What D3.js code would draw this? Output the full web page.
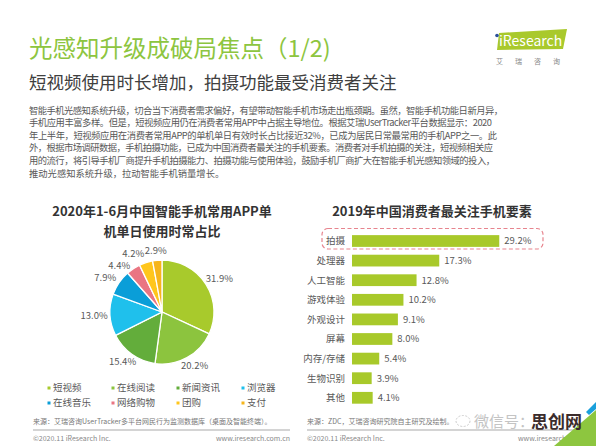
<!DOCTYPE html>
<html>
<head>
<meta charset="utf-8">
<script src="https://cdn.jsdelivr.net/npm/d3@7"></script>
<style>
  body { margin: 0; background: #fff; }
  text { font-family: "Noto Sans CJK SC", "Noto Sans", sans-serif; }
</style>
</head>
<body>
<div id="page"></div>
<script>
var pieCats = ["短视频", "在线阅读", "新闻资讯", "浏览器", "在线音乐", "网络购物", "团购", "支付"];
var pieValues = [31.9, 20.2, 15.4, 13.0, 7.9, 4.4, 4.2, 2.9];
var pieColors = ["#a8ca2c", "#8cc43e", "#63ad3b", "#1fc0ec", "#0a9ed8", "#ea7582", "#ffc61c", "#f6b51a"];

var barCats = ["拍摄", "处理器", "人工智能", "游戏体验", "外观设计", "屏幕", "内存/存储", "生物识别", "其他"];
var barValues = [29.2, 17.3, 12.8, 10.2, 9.1, 8.0, 5.4, 3.9, 4.1];

var paraLines = [
	"智能手机光感知系统升级，切合当下消费者需求偏好，有望带动智能手机市场走出瓶颈期。虽然，智能手机功能日新月异，",
	"手机应用丰富多样。但是，短视频应用仍在消费者常用APP中占据主导地位。根据艾瑞UserTracker平台数据显示：2020",
	"年上半年，短视频应用在消费者常用APP的单机单日有效时长占比接近32%，已成为居民日常最常用的手机APP之一。此",
	"外，根据市场调研数据，手机拍摄功能，已成为中国消费者最关注的手机要素。消费者对手机拍摄的关注，短视频相关应",
	"用的流行，将引导手机厂商提升手机拍摄能力、拍摄功能与使用体验，鼓励手机厂商扩大在智能手机光感知领域的投入，",
	"推动光感知系统升级，拉动智能手机销量增长。"
];
var paraWidths = [474, 463, 468, 464, 466, null];

var svg = d3.select("#page").append("svg")
	.attr("width", 596)
	.attr("height", 446);

// header
svg.append("text")
	.attr("x", 29).attr("y", 57)
	.attr("font-size", 23.5)
	.attr("fill", "#8dc540")
	.text("光感知升级成破局焦点（1/2)");

svg.append("text")
	.attr("x", 29).attr("y", 89)
	.attr("font-size", 17.5)
	.attr("fill", "#404040")
	.text("短视频使用时长增加，拍摄功能最受消费者关注");

// logo
svg.append("polygon")
	.attr("points", "499,33 567,29 563,49 497,50")
	.attr("fill", "#a9c92c");
svg.append("text")
	.attr("x", 499).attr("y", 46)
	.attr("font-size", 14)
	.attr("fill", "#fff")
	.attr("font-family", "Open Sans")
	.text("iResearch");
svg.append("circle")
	.attr("cx", 497).attr("cy", 35.5).attr("r", 1.8)
	.attr("fill", "#2a4f9a");
svg.append("text")
	.attr("x", 496).attr("y", 64)
	.attr("font-size", 7)
	.attr("fill", "#888")
	.attr("letter-spacing", 12)
	.text("艾瑞咨询");

// paragraph
paraLines.forEach(function (line, i) {
	var t = svg.append("text")
		.attr("x", 29).attr("y", 113.5 + i * 12.6)
		.attr("font-size", 9.3)
		.attr("fill", "#595959")
		.text(line);
	if (paraWidths[i]) {
		t.attr("textLength", paraWidths[i]).attr("lengthAdjust", "spacing");
	}
});

// pie chart
var pieTitle = ["2020年1-6月中国智能手机常用APP单", "机单日使用时常占比"];
pieTitle.forEach(function (s, i) {
	svg.append("text")
		.attr("x", 162).attr("y", 215.5 + i * 20.5)
		.attr("text-anchor", "middle")
		.attr("font-size", 13)
		.attr("font-weight", "bold")
		.attr("fill", "#333")
		.text(s);
});

var R = 52;
var pieData = pieCats.map(function (c, i) { return { name: c, value: pieValues[i], color: pieColors[i] }; });
var pie = d3.pie().sort(null).value(function (d) { return d.value; });
var arc = d3.arc().innerRadius(0).outerRadius(R);
var arcs = pie(pieData);

// label box placed just outside the rim, then pushed apart where they touch
var lw = 22.5, lh = 12;
arcs.forEach(function (d) {
	var a = (d.startAngle + d.endAngle) / 2,
		s = Math.sin(a), c = Math.cos(a);
	d.s = s;
	d.lx = s * (R + 5) + s * 11;
	d.ly = -c * (R + 5) - c * 4.5;
});
for (var i = arcs.length - 2; i >= 0; i--) {
	var a = arcs[i], b = arcs[i + 1];
	if (Math.abs(a.lx - b.lx) < lw && Math.abs(a.ly - b.ly) < lh) {
		if (Math.abs(a.s) < 0.4) {
			a.lx = b.lx - lw;
		} else {
			a.lx = Math.min(a.lx, b.lx - 14);
			a.ly = b.ly + lh;
		}
	}
}

var pieG = svg.append("g").attr("transform", "translate(162,312)");
pieG.selectAll("path.slice")
	.data(arcs).enter().append("path")
	.attr("class", "slice")
	.attr("d", arc)
	.attr("fill", function (d) { return d.data.color; })
	.attr("stroke", "#fff")
	.attr("stroke-width", 1.3);

pieG.selectAll("text.plabel")
	.data(arcs).enter().append("text")
	.attr("class", "plabel")
	.attr("x", function (d) { return d.lx; })
	.attr("y", function (d) { return d.ly; })
	.attr("text-anchor", "middle")
	.attr("dy", "0.35em")
	.attr("font-size", 9.5)
	.attr("fill", "#595959")
	.text(function (d) { return d.data.value.toFixed(1) + "%"; });

// pie legend
var legCols = [49, 113, 178, 243];
var leg = svg.selectAll("g.leg")
	.data(pieData).enter().append("g")
	.attr("class", "leg")
	.attr("transform", function (d, i) { return "translate(" + legCols[i % 4] + "," + (388 + Math.floor(i / 4) * 15) + ")"; });
leg.append("rect")
	.attr("x", -1.5).attr("y", -1.5)
	.attr("width", 3).attr("height", 3)
	.attr("fill", function (d) { return d.color; });
leg.append("text")
	.attr("x", 4).attr("dy", "0.35em")
	.attr("font-size", 9.5)
	.attr("fill", "#595959")
	.text(function (d) { return d.name; });

// bar chart
svg.append("text")
	.attr("x", 432).attr("y", 215.5)
	.attr("text-anchor", "middle")
	.attr("font-size", 13)
	.attr("font-weight", "bold")
	.attr("fill", "#333")
	.text("2019年中国消费者最关注手机要素");

var x = d3.scaleLinear().domain([0, 30]).range([352, 503.3]);
var y = d3.scaleBand().domain(barCats).range([231.2, 407.6]).paddingInner(0.4).paddingOuter(0.2);

svg.append("rect")
	.attr("x", 322).attr("y", 228.5)
	.attr("width", 221).attr("height", 20.5)
	.attr("rx", 6)
	.attr("fill", "none")
	.attr("stroke", "#e7848e")
	.attr("stroke-width", 1.2)
	.attr("stroke-dasharray", "4,2.5");

svg.selectAll("rect.bar")
	.data(barValues).enter().append("rect")
	.attr("class", "bar")
	.attr("x", x(0))
	.attr("y", function (d, i) { return y(barCats[i]); })
	.attr("width", function (d) { return x(d) - x(0); })
	.attr("height", y.bandwidth())
	.attr("fill", "#a8c92a");

svg.selectAll("text.cat")
	.data(barCats).enter().append("text")
	.attr("class", "cat")
	.attr("x", 345)
	.attr("y", function (d) { return y(d) + y.bandwidth() / 2; })
	.attr("dy", "0.35em")
	.attr("text-anchor", "end")
	.attr("font-size", 9.5)
	.attr("fill", "#595959")
	.text(function (d) { return d; });

svg.selectAll("text.val")
	.data(barValues).enter().append("text")
	.attr("class", "val")
	.attr("x", function (d) { return x(d) + 5; })
	.attr("y", function (d, i) { return y(barCats[i]) + y.bandwidth() / 2; })
	.attr("dy", "0.35em")
	.attr("font-size", 9.5)
	.attr("fill", "#595959")
	.text(function (d) { return d.toFixed(1) + "%"; });

// footers
var foot = [
	{ x0: 33, x1: 290, src: "来源：艾瑞咨询UserTracker多平台网民行为监测数据库（桌面及智能终端）。" },
	{ x0: 307, x1: 592, src: "来源：ZDC，艾瑞咨询研究院自主研究及绘制。" }
];
foot.forEach(function (f) {
	svg.append("text")
		.attr("x", f.x0).attr("y", 424)
		.attr("font-size", 7)
		.attr("fill", "#777")
		.text(f.src);
	svg.append("line")
		.attr("x1", f.x0).attr("x2", f.x1)
		.attr("y1", 430).attr("y2", 430)
		.attr("stroke", "#aaa")
		.attr("stroke-width", 1.2);
	svg.append("text")
		.attr("x", f.x0).attr("y", 441)
		.attr("font-size", 7)
		.attr("fill", "#888")
		.text("©2020.11 iResearch Inc.");
	svg.append("text")
		.attr("x", f.x1).attr("y", 441)
		.attr("text-anchor", "end")
		.attr("font-size", 7)
		.attr("fill", "#888")
		.text("www.iresearch.com.cn");
});

// watermark
svg.append("polygon")
	.attr("points", "554,446 596,410 596,446")
	.attr("fill", "#8dc63f");
svg.append("polygon")
	.attr("points", "586,412 596,402 596,409 589,415")
	.attr("fill", "#1aa0dc");
svg.append("ellipse")
	.attr("cx", 463).attr("cy", 421).attr("rx", 7).attr("ry", 5.5)
	.attr("fill", "none").attr("stroke", "#ccc").attr("stroke-dasharray", "2,1.5");
svg.append("text")
	.attr("x", 474).attr("y", 427)
	.attr("font-size", 15)
	.attr("fill", "#c4c4c4")
	.text("微信号：");
svg.append("text")
	.attr("x", 531).attr("y", 427.5)
	.attr("font-size", 17)
	.attr("font-weight", "bold")
	.attr("fill", "#3b2c2c")
	.text("思创网");
</script>
</body>
</html>
